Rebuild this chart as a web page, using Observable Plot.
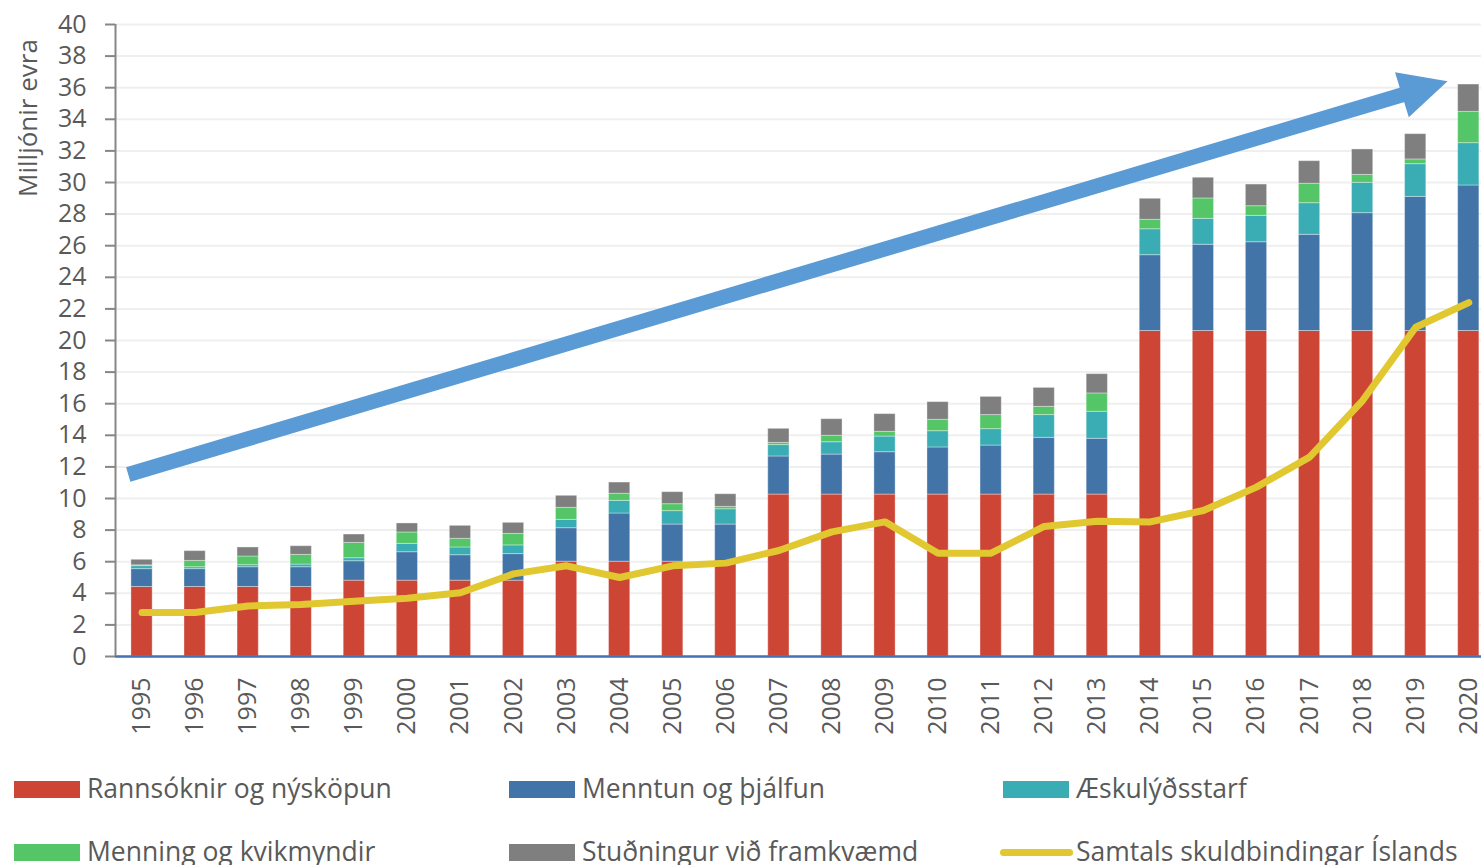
<!DOCTYPE html>
<html>
<head>
<meta charset="utf-8">
<script src="https://cdn.jsdelivr.net/npm/d3@7"></script>
<script src="https://cdn.jsdelivr.net/npm/@observablehq/plot@0.6"></script>
<style>
  html, body { margin: 0; padding: 0; background: white; overflow: hidden; }
  body { width: 1481px; height: 865px; position: relative; font-family: "Open Sans", sans-serif; color: #595959; }
  #chart { position: absolute; left: 0; top: 0; }
  .lg { position: absolute; font-size: 26.5px; line-height: 1; white-space: nowrap; color: #595959; }
  .sw { position: absolute; width: 66px; height: 17px; }
  .ln { position: absolute; width: 73px; height: 7px; border-radius: 4px; }
  #ylabel { position: absolute; left: 27px; top: 118px; font-size: 26px; line-height: 1; white-space: nowrap; color: #595959;
            transform: translate(-50%, -50%) rotate(-90deg); }
</style>
</head>
<body>
<div id="chart"></div>
<div id="ylabel"></div>
<div id="legend"></div>
<script>
const years = [1995,1996,1997,1998,1999,2000,2001,2002,2003,2004,2005,2006,2007,2008,2009,2010,2011,2012,2013,2014,2015,2016,2017,2018,2019,2020];
const seriesNames = ["Rannsóknir og nýsköpun","Menntun og þjálfun","Æskulýðsstarf","Menning og kvikmyndir","Stuðningur við framkvæmd"];
const seriesColors = ["#CD4535","#4274A8","#3AACB4","#55C667","#7F7F7F"];
const rannsoknir = [4.4,4.4,4.4,4.4,4.8,4.8,4.8,4.8,6.0,6.0,6.0,6.0,10.25,10.25,10.25,10.25,10.25,10.25,10.25,20.6,20.6,20.6,20.6,20.6,20.6,20.6];
const menntun = [1.13,1.13,1.25,1.25,1.23,1.8,1.61,1.68,2.12,3.05,2.35,2.35,2.41,2.53,2.68,2.98,3.1,3.59,3.53,4.8,5.46,5.62,6.09,7.46,8.49,9.21];
const aeskulyd = [0.19,0.12,0.13,0.17,0.19,0.53,0.49,0.55,0.53,0.8,0.85,0.97,0.72,0.78,0.99,1.03,1.04,1.44,1.71,1.64,1.64,1.67,2.0,1.92,2.07,2.68];
const menning = [0.05,0.4,0.55,0.61,0.97,0.72,0.55,0.73,0.76,0.45,0.44,0.15,0.14,0.41,0.3,0.72,0.89,0.52,1.16,0.6,1.29,0.61,1.23,0.5,0.3,1.98];
const studningur = [0.35,0.62,0.57,0.55,0.53,0.57,0.82,0.7,0.76,0.71,0.76,0.8,0.89,1.05,1.12,1.12,1.15,1.2,1.22,1.33,1.31,1.37,1.43,1.61,1.6,1.73];
const samtals = [2.78,2.78,3.2,3.29,3.5,3.69,4.03,5.23,5.74,5.0,5.74,5.91,6.71,7.89,8.52,6.54,6.54,8.23,8.56,8.52,9.24,10.72,12.62,16.2,20.84,22.4];
const lineName = "Samtals skuldbindingar Íslands";
const lineColor = "#E1C830";
const yTicks = [0,2,4,6,8,10,12,14,16,18,20,22,24,26,28,30,32,34,36,38,40];
const yLabel = "Milljónir evra";
// trend arrow annotation (year, value)
const arrowShaft = [{year: 1994.74, value: 11.52}, {year: 2018.8, value: 35.6}];
const arrowHead = [{year: 2019.60, value: 36.41}, {year: 2018.61, value: 36.98}, {year: 2018.87, value: 34.13}];
const arrowColor = "#5B9BD5";

const seriesValues = [rannsoknir, menntun, aeskulyd, menning, studningur];
const rows = [];
seriesNames.forEach((s, si) => years.forEach((yr, i) => rows.push({year: yr, series: s, value: seriesValues[si][i]})));
const lineData = years.map((yr, i) => ({year: yr, value: samtals[i]}));

const chart = Plot.plot({
  width: 1481, height: 760,
  marginLeft: 115, marginRight: 0, marginTop: 24, marginBottom: 104,
  style: {fontFamily: "Open Sans", fontSize: "25px", color: "#595959", background: "white", overflow: "visible"},
  x: {type: "linear", domain: [1994.5, 2020.24], axis: null, label: null},
  y: {domain: [0, 40], axis: null, label: null},
  color: {domain: seriesNames, range: seriesColors},
  marks: [
    Plot.gridY(yTicks, {stroke: "#EFEFEF", strokeOpacity: 1, strokeWidth: 2}),
    Plot.rectY(rows, {x1: d => d.year - 0.2, x2: d => d.year + 0.2, y: "value", fill: "series", order: seriesNames, stroke: "white", strokeOpacity: 0.35, strokeWidth: 1}),
    Plot.ruleY([0], {stroke: "#4472B4", strokeWidth: 2.5}),
    Plot.line(lineData, {x: "year", y: "value", stroke: lineColor, strokeWidth: 7, strokeLinecap: "round", strokeLinejoin: "round"}),
    Plot.line(arrowShaft, {x: "year", y: "value", stroke: arrowColor, strokeWidth: 15, strokeLinecap: "butt"}),
    Plot.line(arrowHead, {x: "year", y: "value", fill: arrowColor, stroke: "none"}),
    Plot.ruleX([1994.5], {stroke: "#868686", strokeWidth: 2}),
    Plot.axisY({ticks: yTicks, label: null, tickSize: 10, tickPadding: 19, stroke: "#868686", strokeWidth: 2, fill: "#595959", fontSize: 25}),
    Plot.axisX({ticks: years, label: null, tickFormat: d => String(d), tickRotate: -90, tickSize: 0, tickPadding: 21, fill: "#595959", fontSize: 25})
  ]
});
document.getElementById("chart").appendChild(chart);
document.getElementById("ylabel").textContent = yLabel;

// legend
const legend = document.getElementById("legend");
const items = seriesNames.map((s, i) => ({label: s, color: seriesColors[i], type: "box"})).concat([{label: lineName, color: lineColor, type: "line"}]);
const colX = [14, 509, 1003];
const rowY = [789, 852];
items.forEach((it, i) => {
  const c = i % 3, r = Math.floor(i / 3);
  const cy = rowY[r];
  const sw = document.createElement("div");
  if (it.type === "box") {
    sw.className = "sw";
    sw.style.left = colX[c] + "px";
    sw.style.top = (cy - 8.5) + "px";
  } else {
    sw.className = "ln";
    sw.style.left = (colX[c] - 3) + "px";
    sw.style.top = (cy - 3.5) + "px";
  }
  sw.style.background = it.color;
  legend.appendChild(sw);
  const t = document.createElement("div");
  t.className = "lg";
  t.textContent = it.label;
  t.style.left = (colX[c] + 73) + "px";
  t.style.top = (cy - 14) + "px";
  legend.appendChild(t);
});
</script>
</body>
</html>
